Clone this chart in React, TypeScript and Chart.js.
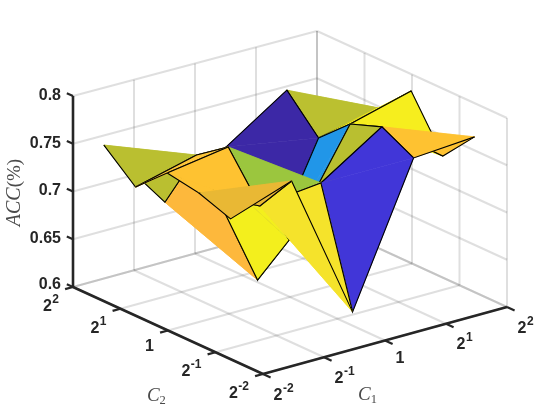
import React, { useEffect, useRef } from "react";
import { Chart, registerables } from "chart.js";

Chart.register(...registerables);

// ---- data ----
const c1Ticks = [-2, -1, 0, 1, 2]; // log2(C1)
const c2Ticks = [-2, -1, 0, 1, 2]; // log2(C2)
const zTicks = [0.6, 0.65, 0.7, 0.75, 0.8];
const zTickLabels = ["0.6", "0.65", "0.7", "0.75", "0.8"];
const logTickLabels = [
  { base: "2", sup: "-2" },
  { base: "2", sup: "-1" },
  { base: "1", sup: "" },
  { base: "2", sup: "1" },
  { base: "2", sup: "2" },
];

const c1Nodes = [-2, -1, 0, 1, 2];
const c2Nodes = [1.35, 0.683, 0.017, -0.65, -1.317];

const accC1a = [0.7634, 0.7347, 0.7645, 0.7588, 0.7469];
const accC1b = [0.6863, 0.751, 0.7747, 0.728, 0.7695];
const accC1c = [0.7269, 0.6022, 0.6596, 0.7349, 0.6145];
const accC1d = [0.7696, 0.7344, 0.7645, 0.7768, 0.7593];
const accC1e = [0.7228, 0.7487, 0.7821, 0.7287, 0.7643];
const accGrid = [accC1a, accC1b, accC1c, accC1d, accC1e];

const faceColorsA = ["#BABF30", "#FDC539", "#FEC231", "#E9B834"];
const faceColorsB = ["#FDB83C", "#F3EF1D", "#9BC63E", "#F5E32B"];
const faceColorsC = ["#3C28A6", "#2196E8", "#B9BF30", "#4136D8"];
const faceColorsD = ["#BBC030", "#F6EF1E", "#F6EE1E", "#FEC231"];
const faceColors = [faceColorsA, faceColorsB, faceColorsC, faceColorsD];

// ---- slightly foreshortened view of the 3-D box, onto a flat 560x420 plane ----
const project = (c1: number, c2: number, z: number) => ({
  x: 263 + 61 * (c1 + 2) - 47.5 * (c2 + 2),
  y: 374 - 16.75 * (c1 + 2) - 21.75 * (c2 + 2) - (z - 0.6) * (955 - 2.5 * (c1 + 2)),
});

const AXIS = "#262626";
const GRID = "rgba(38,38,38,0.15)";
const SANS = '"Liberation Sans", Arial, sans-serif';
const SERIF = '"Liberation Serif", "Times New Roman", serif';

const seg = (pts: { x: number; y: number }[], color: string, width: number, extra: any = {}) => ({
  data: pts,
  borderColor: color,
  borderWidth: width,
  pointRadius: 0,
  tension: 0,
  fill: false,
  clip: false,
  borderCapStyle: "butt",
  borderJoinStyle: "miter",
  ...extra,
});

function buildDatasets() {
  const drawn: any[] = [];
  const lo = -2;
  const hi = 2;
  const zLo = 0.6;
  const zHi = 0.8;
  // walls and floor grid
  for (const c1 of c1Ticks) {
    drawn.push(seg([project(c1, lo, zLo), project(c1, hi, zLo)], GRID, 2));
    drawn.push(seg([project(c1, hi, zLo), project(c1, hi, zHi)], GRID, 2));
  }
  for (const c2 of c2Ticks) {
    drawn.push(seg([project(lo, c2, zLo), project(hi, c2, zLo)], GRID, 2));
    drawn.push(seg([project(hi, c2, zLo), project(hi, c2, zHi)], GRID, 2));
  }
  for (const z of zTicks) {
    drawn.push(seg([project(lo, hi, z), project(hi, hi, z)], GRID, 2));
    drawn.push(seg([project(hi, hi, z), project(hi, lo, z)], GRID, 2));
  }
  // axes with ticks
  drawn.push(seg([project(lo, hi, zLo), project(lo, hi, zHi)], AXIS, 2.6));
  drawn.push(seg([project(lo, hi, zLo), project(lo, lo, zLo)], AXIS, 2.6));
  drawn.push(seg([project(lo, lo, zLo), project(hi, lo, zLo)], AXIS, 2.6));
  for (const z of zTicks) {
    drawn.push(seg([project(lo, hi, z), project(lo, hi + 0.13, z)], AXIS, 2.2));
  }
  for (const c2 of c2Ticks) {
    drawn.push(seg([project(lo, c2, zLo), project(lo - 0.13, c2, zLo)], AXIS, 2.2));
  }
  for (const c1 of c1Ticks) {
    drawn.push(seg([project(c1, lo, zLo), project(c1, lo - 0.16, zLo)], AXIS, 2.2));
  }

  // surface facets, far to near; each facet is a folded pair of triangles
  const quads: { i: number; m: number }[] = [];
  for (let i = 0; i < 4; i++) for (let m = 0; m < 4; m++) quads.push({ i, m });
  quads.sort((a, b) => b.i - b.m - (a.i - a.m) || b.i - a.i);
  const node = (i: number, m: number) => project(c1Nodes[i], c2Nodes[m], accGrid[i][m]);
  for (const { i, m } of quads) {
    const a = node(i, m);
    const b = node(i + 1, m);
    const c = node(i + 1, m + 1);
    const d = node(i, m + 1);
    const col = faceColors[i][m];
    drawn.push(seg([a, b, c, a], col, 0.6, { fill: "shape", backgroundColor: col }));
    drawn.push(seg([a, b, c], "#000000", 1.1));
    drawn.push(seg([a, c, d, a], col, 0.6, { fill: "shape", backgroundColor: col }));
    drawn.push(seg([c, d, a], "#000000", 1.1));
  }
  return drawn.reverse();
}

const labelsPlugin = {
  id: "boxLabels",
  afterDraw(chart: any) {
    const { ctx, scales } = chart;
    const px = (p: { x: number; y: number }) => ({
      x: scales.x.getPixelForValue(p.x),
      y: scales.y.getPixelForValue(p.y),
    });
    ctx.save();
    ctx.fillStyle = AXIS;
    ctx.textBaseline = "alphabetic";
    const bold = `bold 16px ${SANS}`;
    const boldSup = `bold 12px ${SANS}`;
    const runWidth = (l: { base: string; sup: string }) => {
      ctx.font = bold;
      let w = ctx.measureText(l.base).width;
      ctx.font = boldSup;
      if (l.sup) w += ctx.measureText(l.sup).width + 0.5;
      return w;
    };
    const drawRun = (l: { base: string; sup: string }, x: number, y: number) => {
      ctx.textAlign = "left";
      ctx.font = bold;
      ctx.fillText(l.base, x, y);
      const w = ctx.measureText(l.base).width;
      if (l.sup) {
        ctx.font = boldSup;
        ctx.fillText(l.sup, x + w + 0.5, y - 8);
      }
    };
    // z tick labels
    zTicks.forEach((z, k) => {
      const p = px(project(-2, 2, z));
      ctx.font = bold;
      ctx.textAlign = "right";
      ctx.textBaseline = "middle";
      ctx.fillText(zTickLabels[k], p.x - 12, p.y - (k === 0 ? 2.5 : 0.5));
    });
    ctx.textBaseline = "alphabetic";
    // C2 tick labels
    c2Ticks.forEach((c2, k) => {
      const p = px(project(-2, c2, 0.6));
      const l = logTickLabels[k];
      drawRun(l, p.x - 14 - runWidth(l), p.y + (l.sup ? 24 : 20.5));
    });
    // C1 tick labels
    c1Ticks.forEach((c1, k) => {
      const p = px(project(c1, -2, 0.6));
      const l = logTickLabels[k];
      drawRun(l, p.x + 10.5, p.y + (l.sup ? 25.5 : 22.5));
    });
    // axis titles
    ctx.fillStyle = "#4a4a4a";
    const c2Base = px(project(-2, -1.05, 0.6));
    const c1Base = px(project(-0.45, -2, 0.6));
    const title = (x: number, y: number, sub: string) => {
      ctx.textAlign = "left";
      ctx.font = `italic 19px ${SERIF}`;
      ctx.fillText("C", x, y);
      const w = ctx.measureText("C").width;
      ctx.font = `12.5px ${SERIF}`;
      ctx.fillText(sub, x + w, y + 3);
    };
    title(c2Base.x - 71, c2Base.y + 47.5, "2");
    title(c1Base.x + 0.5, c1Base.y + 52, "1");
    const zBase = px(project(-2, 2, 0.7));
    ctx.translate(zBase.x - 53, zBase.y + 1);
    ctx.rotate(-Math.PI / 2);
    ctx.font = `italic 20px ${SERIF}`;
    const acc = "ACC";
    const w1 = ctx.measureText(acc).width;
    ctx.font = `19px ${SERIF}`;
    const w2 = ctx.measureText("(%)").width;
    ctx.textAlign = "left";
    ctx.font = `italic 20px ${SERIF}`;
    ctx.fillText(acc, -(w1 + w2) / 2, 0);
    ctx.font = `19px ${SERIF}`;
    ctx.fillText("(%)", -(w1 + w2) / 2 + w1, 0);
    ctx.restore();
  },
};

export default function App() {
  const ref = useRef<HTMLCanvasElement | null>(null);
  useEffect(() => {
    if (!ref.current) return;
    const chart = new Chart(ref.current, {
      type: "line",
      data: { datasets: buildDatasets() },
      options: {
        animation: false,
        responsive: false,
        events: [],
        layout: { padding: 0 },
        plugins: { legend: { display: false }, tooltip: { enabled: false } },
        scales: {
          x: { type: "linear", display: false, min: 0, max: 560 },
          y: { type: "linear", display: false, min: 0, max: 420, reverse: true },
        },
      },
      plugins: [labelsPlugin],
    } as any);
    return () => chart.destroy();
  }, []);
  return (
    <div style={{ position: "fixed", left: 0, top: 0, width: 560, height: 420, background: "#fff" }}>
      <canvas ref={ref} width={560} height={420} style={{ display: "block" }} />
    </div>
  );
}
